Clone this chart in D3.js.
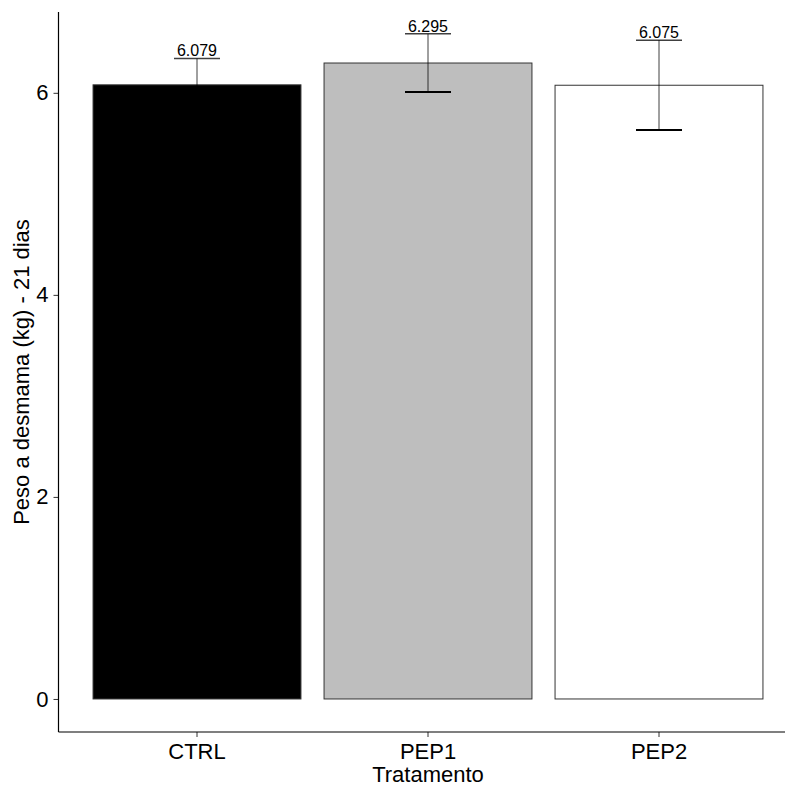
<!DOCTYPE html>
<html>
<head>
<meta charset="utf-8">
<script src="https://cdn.jsdelivr.net/npm/d3@7"></script>
<style>
  html, body { margin: 0; padding: 0; background: #fff; }
  text { font-family: Arial, "Liberation Sans", sans-serif; }
</style>
</head>
<body>
<svg id="chart" width="785" height="787"></svg>
<script>
const categories = ["CTRL", "PEP1", "PEP2"];
const means = [6.079, 6.295, 6.075];
const lower = [5.818, 6.009, 5.632];
const upper = [6.340, 6.584, 6.521];
const fills = ["#000000", "#BEBEBE", "#FFFFFF"];
const yTicks = [0, 2, 4, 6];
const xTitle = "Tratamento";
const yTitle = "Peso a desmama (kg) - 21 dias";

const svg = d3.select("#chart");
const pLeft = 58.5, pRight = 785, pTop = 12, pBottom = 732;
const FONT = "Arial, 'Liberation Sans', sans-serif";

const x = d3.scaleBand().domain(categories).range([81.5, 774.5])
  .paddingInner(0.1).paddingOuter(0.05);
const y = d3.scaleLinear().domain([-0.327, 6.80]).range([pBottom, pTop]);

const data = categories.map((c, i) => ({ c, m: means[i], lo: lower[i], hi: upper[i], f: fills[i] }));

// bars
svg.append("g").selectAll("rect").data(data).join("rect")
  .attr("x", d => x(d.c))
  .attr("width", x.bandwidth())
  .attr("y", d => y(d.m))
  .attr("height", d => y(0) - y(d.m))
  .attr("fill", d => d.f)
  .attr("stroke", "#333")
  .attr("stroke-width", 1);

// error bars
const wh = 23;
const eb = svg.append("g").attr("stroke", "#000");
data.forEach(d => {
  const cx = x(d.c) + x.bandwidth() / 2;
  eb.append("line").attr("x1", cx).attr("x2", cx).attr("y1", y(d.lo)).attr("y2", y(d.hi))
    .attr("stroke", "#000").attr("stroke-width", 1).attr("stroke-opacity", 0.75);
  eb.append("line").attr("x1", cx - wh).attr("x2", cx + wh).attr("y1", y(d.hi)).attr("y2", y(d.hi))
    .attr("stroke-width", 1.5).attr("stroke-opacity", 0.75);
  eb.append("line").attr("x1", cx - wh).attr("x2", cx + wh).attr("y1", y(d.lo)).attr("y2", y(d.lo))
    .attr("stroke-width", 2);
});

// value labels
svg.append("g").selectAll("text").data(data).join("text")
  .attr("x", d => x(d.c) + x.bandwidth() / 2)
  .attr("y", d => y(d.hi) - 2)
  .attr("text-anchor", "middle")
  .attr("font-size", 16)
  .attr("fill", "#000")
  .text(d => d.m.toFixed(3));

// y axis
const yAxis = svg.append("g").attr("transform", `translate(${pLeft},0)`)
  .call(d3.axisLeft(y).tickValues(yTicks).tickSize(5).tickPadding(5).tickFormat(d3.format("d")));
yAxis.select(".domain").remove();
yAxis.selectAll(".tick line").attr("stroke", "#333");
yAxis.selectAll(".tick text").attr("font-size", 22).attr("fill", "#000").attr("font-family", FONT);
svg.append("line").attr("x1", pLeft).attr("x2", pLeft).attr("y1", pTop).attr("y2", pBottom)
  .attr("stroke", "#000").attr("stroke-width", 1.2);

// x axis
const xAxis = svg.append("g").attr("transform", `translate(0,${pBottom})`)
  .call(d3.axisBottom(x).tickSize(5).tickPadding(6));
xAxis.select(".domain").remove();
xAxis.selectAll(".tick line").attr("stroke", "#333");
xAxis.selectAll(".tick text").attr("font-size", 22).attr("fill", "#000").attr("font-family", FONT);
svg.append("line").attr("x1", pLeft).attr("x2", pRight).attr("y1", pBottom).attr("y2", pBottom)
  .attr("stroke", "#000").attr("stroke-width", 1.2);

// titles
svg.append("text").attr("x", 428).attr("y", 782).attr("text-anchor", "middle")
  .attr("font-size", 22).attr("fill", "#000").text(xTitle);
svg.append("text").attr("transform", `translate(29,${(pTop + pBottom) / 2}) rotate(-90)`)
  .attr("text-anchor", "middle").attr("font-size", 22).attr("fill", "#000").text(yTitle);
</script>
</body>
</html>
